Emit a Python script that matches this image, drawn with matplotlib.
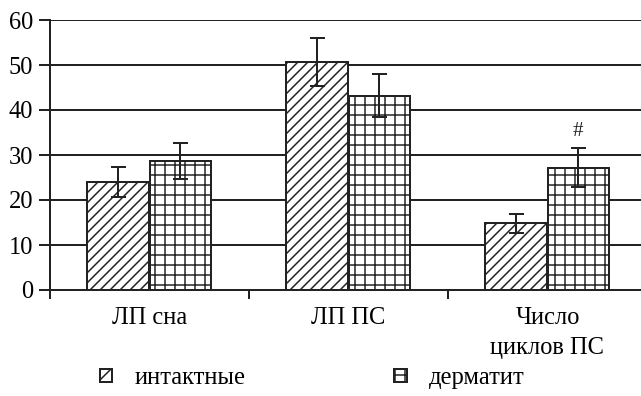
import numpy as np
import matplotlib.pyplot as plt
from matplotlib.patches import Patch

DPI = 60
px = 72 / DPI  # points per pixel

categories = ['ЛП сна', 'ЛП ПС', 'Число\nциклов ПС']
groups = ['интактные', 'дерматит']
intact = [24.0, 50.6, 14.8]
intact_err = [3.3, 5.3, 2.2]
dermatitis = [28.6, 43.2, 27.2]
dermatitis_err = [4.0, 4.7, 4.4]

ink = '#222222'
fs = 24.5 * px

plt.rcParams['font.family'] = ['Liberation Serif', 'DejaVu Serif']
plt.rcParams['hatch.linewidth'] = 1.5 * px

fig = plt.figure(figsize=(641 / DPI, 396 / DPI), dpi=DPI)
ax = fig.add_axes([50 / 641, 106 / 396, 597 / 641, 270 / 396])

x = np.arange(len(categories))
w = 0.31
err_style = dict(ecolor=ink, elinewidth=2 * px, capsize=7.5 * px, capthick=2 * px)
ax.bar(x - 0.16, intact, w, yerr=intact_err, facecolor='white', edgecolor=ink,
       hatch='//', linewidth=2 * px, error_kw=err_style, zorder=3)
ax.bar(x + 0.155, dermatitis, w, yerr=dermatitis_err, facecolor='white', edgecolor=ink,
       hatch='+', linewidth=2 * px, error_kw=err_style, zorder=3)

# significance mark over the dermatitis bar in the third group
ax.text(x[2] + 0.155, dermatitis[2] + dermatitis_err[2] + 3.6, '#',
        ha='center', va='center', fontsize=21 * px, color=ink)

ax.set_xlim(-0.5, 2.5)
ax.set_ylim(0, 60)
ax.set_yticks(range(0, 61, 10))
ax.yaxis.grid(True, color=ink, linewidth=2 * px, zorder=0)
ax.set_axisbelow(True)

ax.set_xticks([-0.5, 0.5, 1.5])
ax.set_xticklabels([])
ax.set_xticks(x, minor=True)
ax.set_xticklabels(categories, minor=True, fontsize=fs, linespacing=1.45)
ax.tick_params(axis='x', which='major', direction='out', length=9 * px,
               width=2 * px, color=ink)
ax.tick_params(axis='x', which='minor', length=0, pad=17 * px)
ax.tick_params(axis='y', direction='out', length=11 * px, width=2 * px,
               color=ink, labelsize=fs, pad=6 * px)

for side in ['top', 'right']:
    ax.spines[side].set_visible(False)
for side in ['left', 'bottom']:
    ax.spines[side].set_linewidth(2 * px)
    ax.spines[side].set_color(ink)

handles = [Patch(facecolor='white', edgecolor=ink, hatch='/', linewidth=2 * px),
           Patch(facecolor='white', edgecolor=ink, hatch='+', linewidth=2 * px)]
fig.legend(handles, groups, loc='center', bbox_to_anchor=(0.487, 0.045), ncol=2,
           frameon=False, fontsize=fs, handlelength=0.5, handleheight=0.5,
           handletextpad=0.9, columnspacing=6.08)

fig.savefig('out.png', dpi=DPI)
